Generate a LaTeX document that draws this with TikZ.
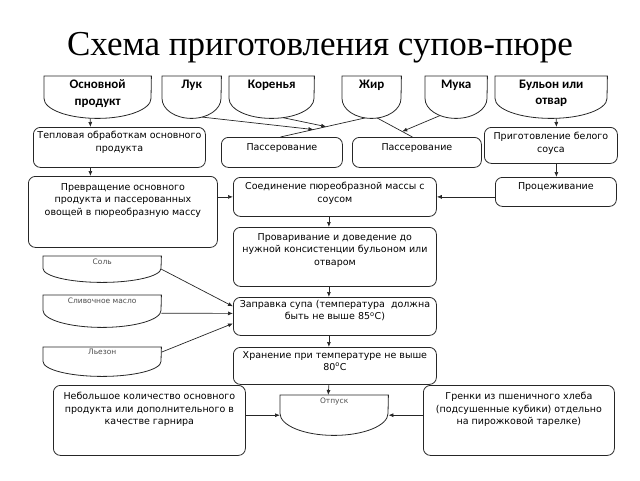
\documentclass[tikz,border=0pt]{standalone}
\usepackage{fontspec}
\setmainfont{DejaVu Sans}
\newfontfamily\titlefont{Liberation Serif}
\newfontfamily\headfont{Carlito}
\usetikzlibrary{arrows.meta}
\newcommand\bxt[4]{\parbox[c][#2][t]{#1}{\centering\vspace*{#3}#4\par}}
\newcommand\docsh[3]{\draw[docline] (#1.north west) -- ([yshift=#3]#1.south west) arc[start angle=180,end angle=360,x radius=#2,y radius=#3] -- (#1.north east) -- cycle;}
\tikzset{
 rbox/.style={draw=black!85, line width=0.8pt, rounded corners=7pt, fill=white, inner sep=0pt, anchor=north west, font=\fontsize{9.5}{12.5}\selectfont},
 docn/.style={inner sep=0pt, anchor=north west, font=\headfont\bfseries\fontsize{13}{16.5}\selectfont},
 smalldoc/.style={inner sep=0pt, anchor=north west, font=\fontsize{7.5}{9}\selectfont, text=black!70},
 docline/.style={draw=black!85, line width=0.8pt},
 arr/.style={draw=black!85, line width=0.7pt, -{Latex[length=5pt,width=4pt]}},
 conn/.style={draw=black!85, line width=0.7pt},
}
\begin{document}
\begin{tikzpicture}[x=1pt,y=1pt]
\useasboundingbox (0,0) rectangle (640,-480);
\node[font=\titlefont\fontsize{35}{40}\selectfont, anchor=base] (title) at (320,-55) {Схема приготовления супов-пюре};
% top row
\node[docn] (osn) at (44,-76) {\bxt{107pt}{42pt}{3.5pt}{Основной\\продукт}};
\node[docn] (luk) at (162,-76) {\bxt{59pt}{42pt}{3.5pt}{Лук}};
\node[docn] (kor) at (229,-76) {\bxt{85pt}{42pt}{3.5pt}{Коренья}};
\node[docn] (zhir) at (342,-76) {\bxt{59pt}{42pt}{3.5pt}{Жир}};
\node[docn] (muka) at (425,-76) {\bxt{62pt}{42pt}{3.5pt}{Мука}};
\node[docn] (bul) at (495,-76) {\bxt{112pt}{42pt}{3.5pt}{Бульон или\\отвар}};
\docsh{osn}{53.5pt}{20pt}
\docsh{luk}{29.5pt}{20pt}
\docsh{kor}{42.5pt}{20pt}
\docsh{zhir}{29.5pt}{20pt}
\docsh{muka}{31pt}{20pt}
\docsh{bul}{56pt}{20pt}
% boxes
\node[rbox] (tep) at (33,-127) {\bxt{172pt}{40pt}{3.8pt}{Тепловая обработкам основного\\продукта}};
\node[rbox] (pas1) at (221,-137) {\bxt{121pt}{30pt}{5.8pt}{Пассерование}};
\node[rbox] (pas2) at (352,-137) {\bxt{129pt}{30pt}{5.8pt}{Пассерование}};
\node[rbox] (bel) at (484,-127) {\bxt{133pt}{36pt}{4.8pt}{Приготовление белого\\соуса}};
\node[rbox] (prev) at (28,-176) {\bxt{189pt}{71pt}{6.8pt}{Превращение основного\\продукта и пассерованных\\овощей в пюреобразную массу}};
\node[rbox] (soed) at (233,-177) {\bxt{203pt}{39pt}{4.8pt}{Соединение пюреобразной массы с\\соусом}};
\node[rbox] (proc) at (495,-177) {\bxt{121pt}{29pt}{4.8pt}{Процеживание}};
\node[rbox] (prov) at (233,-227) {\bxt{203pt}{59pt}{5.8pt}{Проваривание и доведение до\\нужной консистенции бульоном или\\отваром}};
\node[rbox] (zap) at (233,-297) {\bxt{203pt}{38pt}{2.8pt}{Заправка супа (температура\ \ должна\\быть не выше 85\textsuperscript{o}С)}};
\node[rbox] (khr) at (233,-347) {\bxt{203pt}{37pt}{3.8pt}{Хранение при температуре не выше\\80\textsuperscript{o}С}};
\node[rbox] (neb) at (53,-385) {\bxt{192pt}{70pt}{6.8pt}{Небольшое количество основного\\продукта или дополнительного в\\качестве гарнира}};
\node[rbox] (gren) at (423,-385) {\bxt{191pt}{70pt}{6.8pt}{Гренки из пшеничного хлеба\\(подсушенные кубики) отдельно\\на пирожковой тарелке)}};
% small document shapes
\node[smalldoc] (sol) at (43,-256) {\bxt{118pt}{26pt}{3pt}{Соль}};
\node[smalldoc] (slv) at (43,-295) {\bxt{118pt}{32pt}{3pt}{Сливочное масло}};
\node[smalldoc] (lez) at (43,-347) {\bxt{118pt}{29pt}{1.5pt}{Льезон}};
\node[smalldoc] (otp) at (280,-395) {\bxt{108pt}{40pt}{3pt}{Отпуск}};
\docsh{sol}{59pt}{14pt}
\docsh{slv}{59pt}{17pt}
\docsh{lez}{59pt}{15pt}
\docsh{otp}{54pt}{22pt}
% top junction lines
\coordinate (za) at ([xshift=-6.5pt,yshift=0.5pt]zhir.south);
\coordinate (pa) at ([xshift=-1.5pt]pas1.north);
\draw[conn] (za) -- coordinate[pos=0.61] (j1) coordinate[pos=0.46] (j2) (pa);
\draw[arr] ([xshift=10.5pt,yshift=1.3pt]luk.south) -- (j1);
\draw[arr] ([xshift=11.5pt,yshift=0.7pt]kor.south) -- (j2);
\draw[conn] ([xshift=5.5pt,yshift=0.4pt]zhir.south) -- coordinate[pos=0.71] (j3) ([xshift=-4.5pt]pas2.north);
\draw[arr] ([xshift=-16pt,yshift=2.9pt]muka.south) -- (j3);
% vertical flow
\draw[arr] ([xshift=-7.5pt]osn.south) -- ([xshift=-29pt]tep.north);
\draw[arr] ([xshift=-29pt]tep.south) -- ([xshift=-32.5pt]prev.north);
\draw[arr] (prev.east |- soed.west) -- (soed.west);
\draw[arr] ([xshift=5pt]bul.south) -- ([xshift=5.5pt]bel.north);
\draw[arr] ([xshift=5.5pt]bel.south) -- ([xshift=0.5pt]proc.north);
\draw[arr] (proc.west |- soed.east) -- (soed.east);
\draw[arr] ([xshift=-6pt]soed.south) -- ([xshift=-6pt]prov.north);
\draw[arr] ([xshift=-6pt]prov.south) -- ([xshift=-6pt]zap.north);
\draw[arr] ([xshift=-6pt]zap.south) -- ([xshift=-6pt]khr.north);
\draw[arr] ([xshift=-6pt]khr.south) -- ([xshift=-6pt]otp.north);
% side arrows
\draw[arr] (sol.east) -- ([yshift=10pt]zap.west);
\draw[arr] ([yshift=-2pt]slv.east) -- ([yshift=3pt]zap.west);
\draw[arr] ([yshift=9.5pt]lez.east) -- ([yshift=-7pt]zap.west);
\draw[arr] (neb.east |- otp.west) -- (otp.west);
\draw[arr] (gren.west |- otp.east) -- (otp.east);
\end{tikzpicture}
\end{document}
